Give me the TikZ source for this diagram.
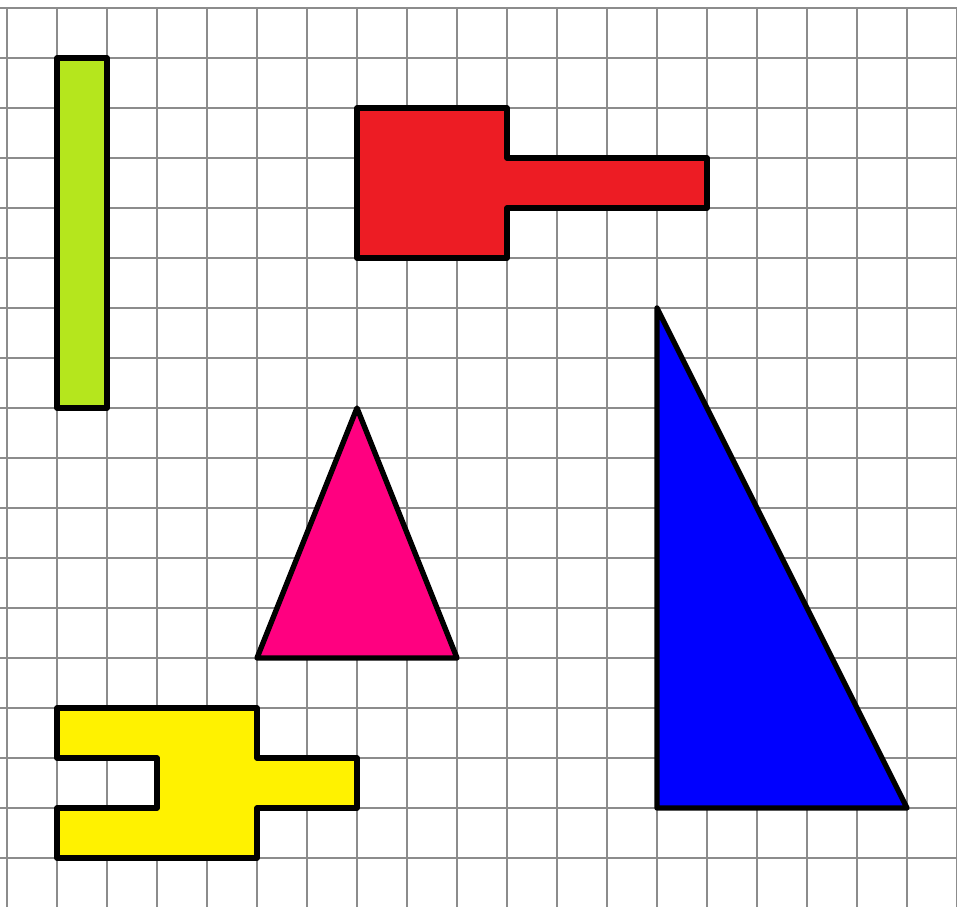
\documentclass[tikz,border=0pt]{standalone}

\tikzset{every picture/.style={line width=0.75pt}}
\tikzset{
  gridline/.style={draw={rgb, 255:red, 140; green, 140; blue, 140 }, line width=1.1pt},
  shapeline/.style={draw=black, line width=4pt, line join=round}
}

\begin{document}
\begin{tikzpicture}[x=37.5pt,y=37.5pt,yscale=-1,xscale=1]
%set picture frame, grid starts 7px right and 8px down
\useasboundingbox (-0.14,-0.16) rectangle (19,17.98);

%Grid
\foreach \i in {0,...,19} {
  \draw [gridline] (\i,0) -- (\i,18) ;
}
\foreach \j in {0,...,18} {
  \draw [gridline] (-0.14,\j) -- (19,\j) ;
}

%Shape: Rectangle (green)
\draw [shapeline, fill={rgb, 255:red, 181; green, 230; blue, 29 }] (1,1) -- (2,1) -- (2,8) -- (1,8) -- cycle ;
%Shape: Polygon (red)
\draw [shapeline, fill={rgb, 255:red, 237; green, 28; blue, 36 }] (7,2) -- (10,2) -- (10,3) -- (14,3) -- (14,4) -- (10,4) -- (10,5) -- (7,5) -- cycle ;
%Shape: Triangle (pink)
\draw [shapeline, fill={rgb, 255:red, 255; green, 0; blue, 128 }] (7,8) -- (9,13) -- (5,13) -- cycle ;
%Shape: Right Triangle (blue)
\draw [shapeline, fill={rgb, 255:red, 0; green, 0; blue, 255 }] (13,6) -- (18,16) -- (13,16) -- cycle ;
%Shape: Polygon (yellow)
\draw [shapeline, fill={rgb, 255:red, 255; green, 242; blue, 0 }] (1,14) -- (5,14) -- (5,15) -- (7,15) -- (7,16) -- (5,16) -- (5,17) -- (1,17) -- (1,16) -- (3,16) -- (3,15) -- (1,15) -- cycle ;

\end{tikzpicture}
\end{document}
